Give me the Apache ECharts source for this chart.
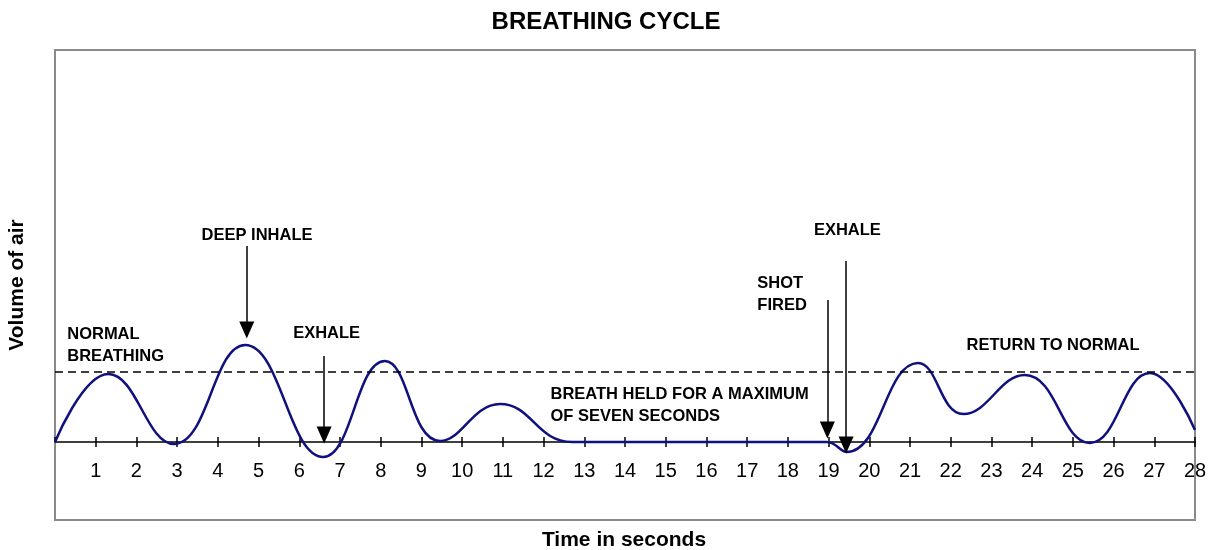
<!DOCTYPE html>
<html>
<head>
<meta charset="utf-8">
<script src="https://cdn.jsdelivr.net/npm/echarts@6/dist/echarts.min.js"></script>
<style>
  html, body { margin: 0; padding: 0; background: #fff; }
  #chart { width: 1212px; height: 550px; }
</style>
</head>
<body>
<div id="chart"></div>
<script>
// ---- data ----
const times = [0, 1.31, 2.92, 4.67, 6.59, 8.1, 9.46, 10.93, 12.7, 18.95, 19.45, 21.2, 22.31,
  23.82, 25.42, 26.89, 28];
const volumes = [0, 68, -2, 97, -15, 81, 1, 38, 0, 0, -10, 79, 28,
  67, -1, 69, 12];
const normalLevel = 70;
const xTicks = [0, 28, 1];  // min, max, interval
const yRange = [-78, 392];
const titleText = 'BREATHING CYCLE';
const xTitle = 'Time in seconds';
const yTitle = 'Volume of air';
// annotations: [time, volume, text]
const notes = [
  [0.30, 97, 'NORMAL\nBREATHING'],
  [3.60, 207, 'DEEP INHALE'],
  [5.85, 109, 'EXHALE'],
  [12.17, 36.5, 'BREATH HELD FOR A MAXIMUM\nOF SEVEN SECONDS'],
  [17.25, 148, 'SHOT\nFIRED'],
  [18.64, 212, 'EXHALE'],
  [22.39, 97, 'RETURN TO NORMAL']
];
// arrows: [time, startVolume, endVolume (arrow head centre)]
const arrows = [
  [4.71, 196, 112],
  [6.61, 86, 7],
  [18.97, 142, 12],
  [19.43, 181, -3]
];

const FONT = '"Liberation Sans", Arial, sans-serif';
const curve = times.map((t, i) => [t, volumes[i]]);

const solidBlack = { type: 'solid', color: '#000', width: 1.5 };
const markLineData = [[
  { coord: [xTicks[0], normalLevel], symbol: 'none', lineStyle: { type: [8, 5], color: '#000', width: 1.5 } },
  { coord: [xTicks[1], normalLevel], symbol: 'none' }
]].concat(arrows.map(a => [
  { coord: [a[0], a[1]], symbol: 'none', lineStyle: solidBlack },
  { coord: [a[0], a[2]], symbol: 'triangle', symbolSize: [15, 17] }
]));

// grid geometry
const G = { left: 55, right: 17, top: 50, bottom: 30 };
const zeroFromBottom = 550 - 442; // position of the time axis line

const chart = echarts.init(document.getElementById('chart'), null, { renderer: 'canvas' });
const hiddenX = (gi) => ({
  type: 'value', gridIndex: gi, min: xTicks[0], max: xTicks[1], interval: xTicks[2],
  axisLine: { show: false }, axisTick: { show: false }, axisLabel: { show: false }, splitLine: { show: false }
});
const hiddenY = (gi) => ({
  type: 'value', gridIndex: gi, min: 0, max: 1,
  axisLine: { show: false }, axisTick: { show: false }, axisLabel: { show: false }, splitLine: { show: false }
});
chart.setOption({
  animation: false,
  backgroundColor: '#fff',
  title: {
    text: titleText, left: 'center', top: 5,
    textStyle: { fontFamily: FONT, fontSize: 24, fontWeight: 'bold', color: '#000' }
  },
  grid: [{
    left: G.left, right: G.right, top: G.top, bottom: G.bottom, outerBoundsMode: 'none', containLabel: false,
    show: true, borderColor: '#8a8a8a', borderWidth: 2, backgroundColor: 'transparent'
  }, {
    left: G.left, right: G.right, top: G.top, bottom: zeroFromBottom, outerBoundsMode: 'none', containLabel: false
  }, {
    left: G.left, right: G.right, top: 550 - zeroFromBottom, bottom: G.bottom, outerBoundsMode: 'none', containLabel: false
  }],
  xAxis: [hiddenX(0), {
    type: 'value', gridIndex: 1, min: xTicks[0], max: xTicks[1], interval: xTicks[2], position: 'bottom',
    axisLine: { show: true, onZero: false, lineStyle: { color: '#000', width: 1.5 } },
    axisTick: { show: true, inside: false, length: 5, lineStyle: { color: '#000', width: 1.5 } },
    axisLabel: { show: true, showMinLabel: false, showMaxLabel: true, margin: 19, color: '#000',
      fontFamily: FONT, fontSize: 20, hideOverlap: false },
    splitLine: { show: false }
  }, {
    type: 'value', gridIndex: 2, min: xTicks[0], max: xTicks[1], interval: xTicks[2], position: 'top',
    axisLine: { show: false, onZero: false },
    axisTick: { show: true, inside: false, length: 5, lineStyle: { color: '#000', width: 1.5 } },
    axisLabel: { show: false },
    splitLine: { show: false }
  }],
  yAxis: [{
    type: 'value', gridIndex: 0, min: yRange[0], max: yRange[1],
    axisLine: { show: false }, axisTick: { show: false }, axisLabel: { show: false },
    splitLine: { show: false },
    name: yTitle, nameLocation: 'middle', nameGap: 27, nameRotate: 90,
    nameTextStyle: { fontFamily: FONT, fontSize: 21, fontWeight: 'bold', color: '#000' }
  }, hiddenY(1), hiddenY(2)],
  graphic: [{
    type: 'text', x: 624, y: 540,
    style: { text: xTitle, textAlign: 'center', textVerticalAlign: 'middle',
      font: 'bold 21px ' + FONT, fill: '#000' }
  }],
  series: [{
    type: 'line',
    xAxisIndex: 0, yAxisIndex: 0,
    data: curve,
    smooth: 0.45,
    showSymbol: false,
    lineStyle: { color: '#10107f', width: 2.5 },
    markLine: {
      silent: true, animation: false, label: { show: false },
      symbol: ['none', 'none'],
      data: markLineData
    },
    markPoint: {
      silent: true, animation: false,
      data: notes.map(n => ({
        coord: [n[0], n[1]], symbol: 'circle', symbolSize: 0,
        label: { show: true, position: [0, 0], align: 'left', verticalAlign: 'middle',
          formatter: n[2], fontFamily: FONT, fontSize: 16.5, fontWeight: 'bold',
          color: '#000', lineHeight: 22 }
      }))
    }
  }]
});
</script>
</body>
</html>
